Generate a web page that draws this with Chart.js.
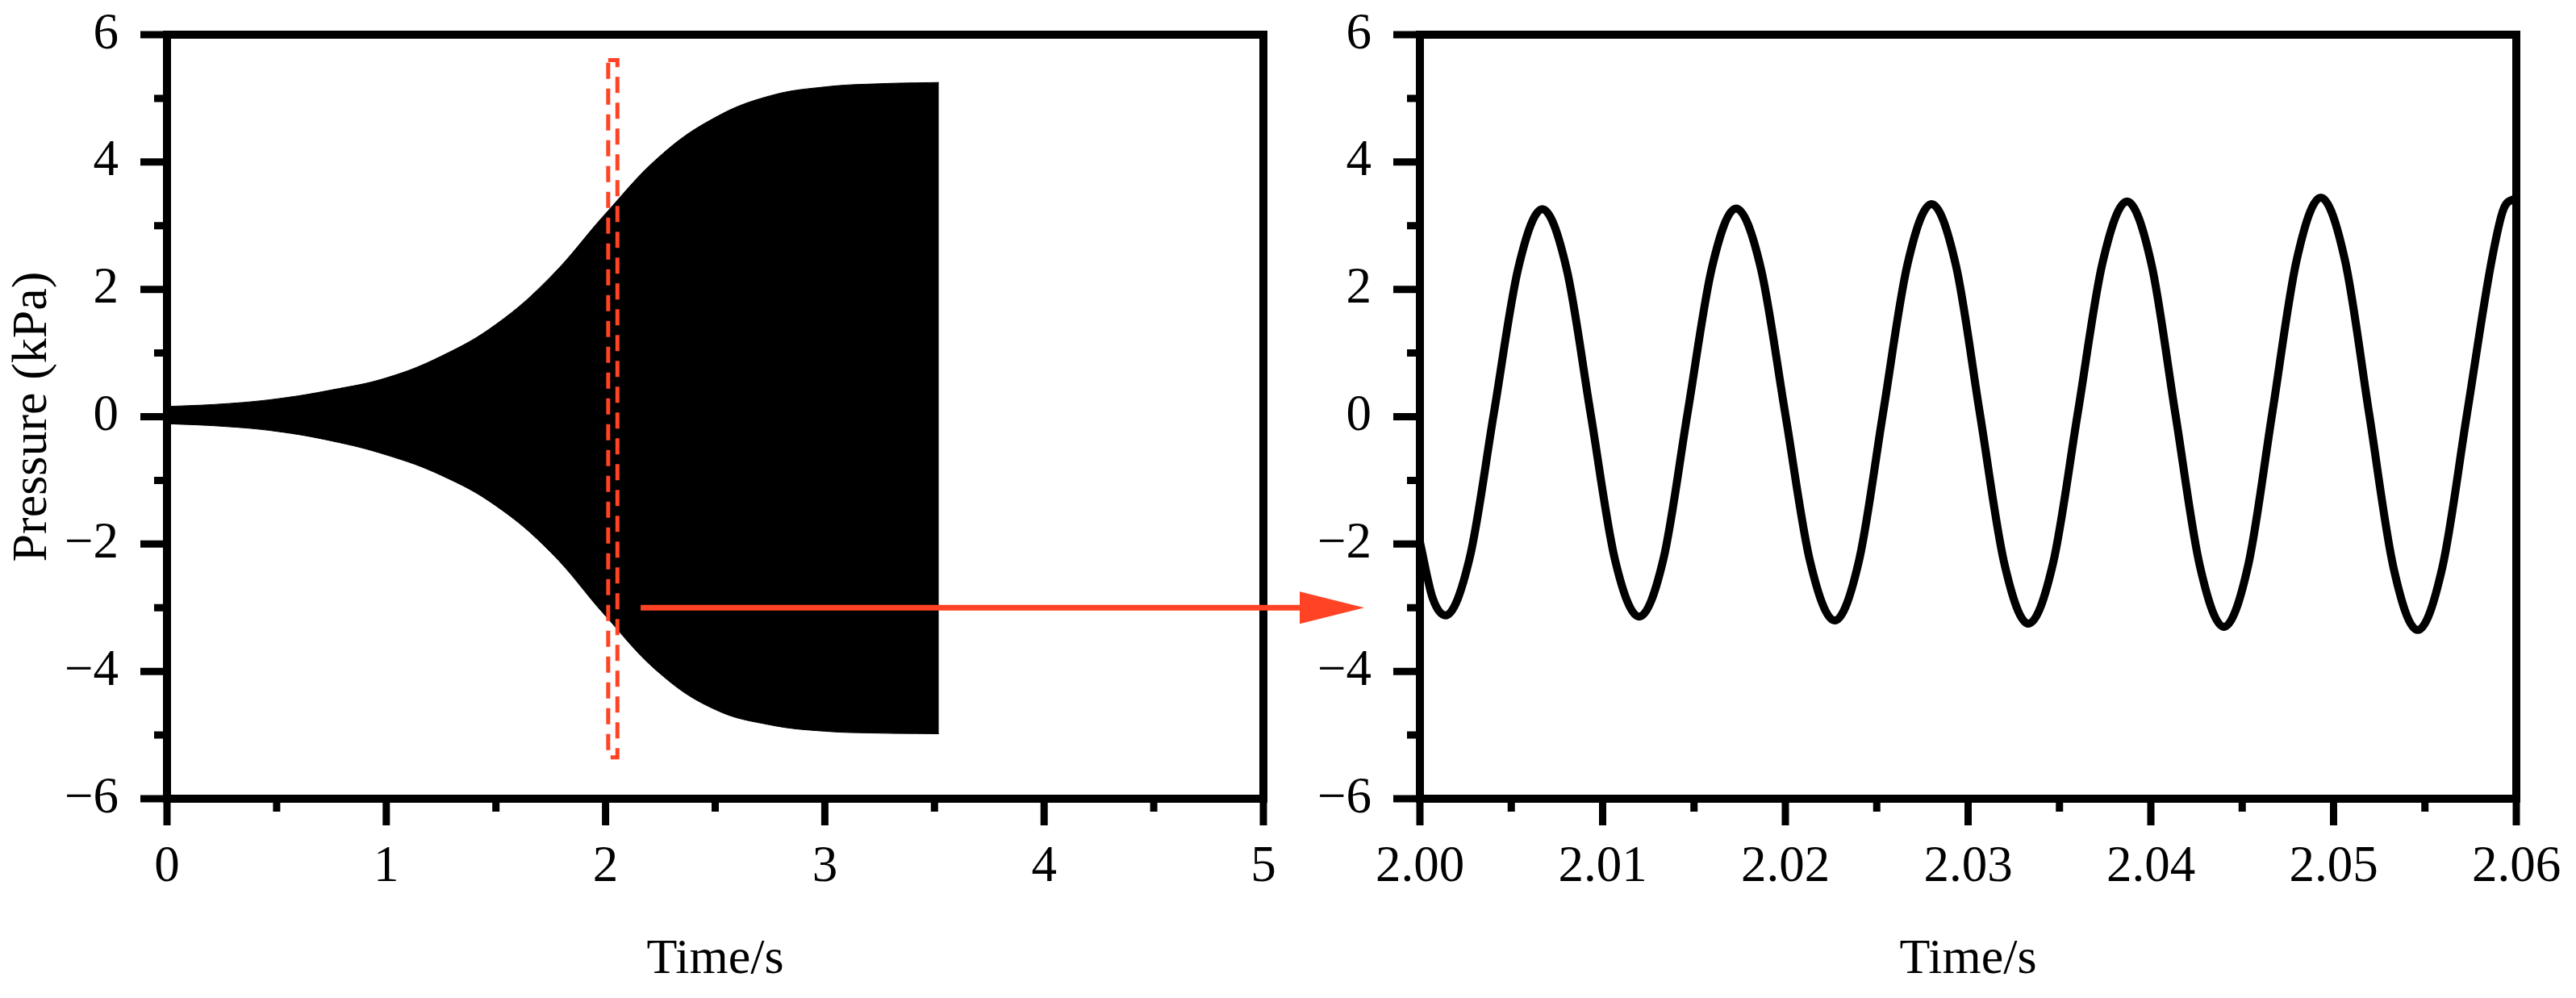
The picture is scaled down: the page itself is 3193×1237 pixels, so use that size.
<!DOCTYPE html>
<html>
<head>
<meta charset="utf-8">
<title>Pressure oscillation</title>
<script src="https://cdn.jsdelivr.net/npm/chart.js@4.4.1/dist/chart.umd.min.js"></script>
<style>
  html, body { margin: 0; padding: 0; background: #fff; }
  #wrap { position: relative; width: 3193px; height: 1237px; overflow: hidden; background: #fff; }
  canvas { position: absolute; top: 0; }
  #full { left: 0; }
  #zoom { left: 1560px; }
</style>
</head>
<body>
<div id="wrap">
  <canvas id="full" width="1700" height="1237"></canvas>
  <canvas id="zoom" width="1633" height="1237"></canvas>
</div>
<script>
// left panel: upper / lower envelope of the whole record (kPa)
const envTime  = [0, 0.25, 0.5, 0.75, 1.0, 1.25, 1.5, 1.75, 2.0, 2.25, 2.5, 2.75, 3.0, 3.25, 3.52];
const envUpper = [0.16, 0.2, 0.28, 0.42, 0.61, 0.95, 1.45, 2.2, 3.19, 4.1, 4.7, 5.04, 5.18, 5.23, 5.25];
const envLower = [-0.11, -0.15, -0.23, -0.38, -0.6, -0.92, -1.4, -2.13, -3.13, -4.04, -4.6, -4.84, -4.94, -4.97, -4.98];

// right panel: the signal between 2.00 and 2.06 s
const zoomTime = [
  2.0000, 2.0007, 2.0014, 2.00273, 2.00405, 2.00538,
  2.0067, 2.00803, 2.00935, 2.01068, 2.0120, 2.01333, 2.01465, 2.01598,
  2.0173, 2.01865, 2.0200, 2.02135, 2.0227, 2.02403, 2.02535, 2.02668,
  2.0280, 2.02933, 2.03065, 2.03198, 2.0333, 2.03465, 2.0360, 2.03735,
  2.0387, 2.04003, 2.04135, 2.04268, 2.0440, 2.04533, 2.04665, 2.04798,
  2.0493, 2.05063, 2.05195, 2.05328, 2.0546, 2.05595, 2.0573, 2.05865,
  2.0593, 2.0600
];
const zoomPressure = [
  -1.97, -2.85, -3.12, -2.21, 0.06, 2.33,
  3.26, 2.32, 0.035, -2.25, -3.14, -2.23, 0.06, 2.34,
  3.27, 2.34, 0.035, -2.27, -3.2, -2.26, 0.065, 2.39,
  3.34, 2.38, 0.04, -2.30, -3.25, -2.30, 0.055, 2.41,
  3.38, 2.40, 0.03, -2.34, -3.30, -2.33, 0.065, 2.46,
  3.44, 2.45, 0.04, -2.37, -3.35, -2.37, 0.04, 2.45,
  3.26, 3.44
];

const pressureTicks = [-6, -4, -2, 0, 2, 4, 6];
const fullTimeTicks = [0, 1, 2, 3, 4, 5];
const zoomTimeTicks = [2.00, 2.01, 2.02, 2.03, 2.04, 2.05, 2.06];

// dashed window on the left panel and the arrow pointing to the zoom
const boxTime     = [2.012, 2.054, 2.054, 2.012, 2.012];
const boxPressure = [5.6, 5.6, -5.35, -5.35, 5.6];
const arrowFrom = [2.16, -3.0];
const arrowTo   = [5.46, -3.0];

const RED = '#ff4324';
const FONT = "'Liberation Serif', 'Times New Roman', serif";
const tickFont = { family: FONT, size: 63 };
const titleFont = { family: FONT, size: 62 };

const pts = (xs, ys) => xs.map((x, i) => ({ x: x, y: ys[i] }));
const minus = v => (v < 0 ? '\u2212' + (-v) : String(v));

// box frame plus major/minor tick marks, drawn from the scales
const axisFrame = {
  id: 'axisFrame',
  afterDraw(chart) {
    const { ctx, chartArea: a, scales: { x, y } } = chart;
    const major = 33, minor = 16;
    ctx.save();
    ctx.strokeStyle = '#000';
    ctx.lineWidth = 9;
    ctx.beginPath();
    const xt = x.ticks.map(t => t.value);
    xt.forEach((v, i) => {
      const p = x.getPixelForValue(v);
      ctx.moveTo(p, a.bottom); ctx.lineTo(p, a.bottom + major);
      if (i < xt.length - 1) {
        const m = x.getPixelForValue((v + xt[i + 1]) / 2);
        ctx.moveTo(m, a.bottom); ctx.lineTo(m, a.bottom + minor);
      }
    });
    const yt = y.ticks.map(t => t.value);
    yt.forEach((v, i) => {
      const p = y.getPixelForValue(v);
      ctx.moveTo(a.left, p); ctx.lineTo(a.left - major, p);
      if (i < yt.length - 1) {
        const m = y.getPixelForValue((v + yt[i + 1]) / 2);
        ctx.moveTo(a.left, m); ctx.lineTo(a.left - minor, m);
      }
    });
    ctx.stroke();
    ctx.lineWidth = 10;
    ctx.strokeRect(a.left, a.top, a.right - a.left, a.bottom - a.top);
    ctx.restore();
  }
};

const zoomArrow = {
  id: 'zoomArrow',
  afterDraw(chart) {
    const { ctx, scales: { x, y } } = chart;
    const x0 = x.getPixelForValue(arrowFrom[0]);
    const x1 = x.getPixelForValue(arrowTo[0]);
    const py = y.getPixelForValue(arrowFrom[1]);
    const head = 80, half = 20;
    ctx.save();
    ctx.strokeStyle = RED;
    ctx.fillStyle = RED;
    ctx.lineWidth = 7;
    ctx.beginPath();
    ctx.moveTo(x0, py); ctx.lineTo(x1 - head + 2, py);
    ctx.stroke();
    ctx.beginPath();
    ctx.moveTo(x1, py);
    ctx.lineTo(x1 - head, py - half);
    ctx.lineTo(x1 - head, py + half);
    ctx.closePath();
    ctx.fill();
    ctx.restore();
  }
};

function timeScale(ticks, min, max, digits) {
  return {
    type: 'linear',
    min: min,
    max: max,
    afterBuildTicks: s => { s.ticks = ticks.map(v => ({ value: v })); },
    afterFit: s => { s.height = 247; s.paddingLeft = 0; s.paddingRight = 0; },
    grid: { display: false, drawTicks: false },
    border: { display: false },
    ticks: {
      font: tickFont, color: '#000', padding: 48,
      maxRotation: 0, autoSkip: false,
      callback: v => v.toFixed(digits)
    },
    title: { display: true, text: 'Time/s', font: titleFont, color: '#000', padding: { top: 0, bottom: 10 } }
  };
}

function pressureScale(width, withTitle) {
  return {
    type: 'linear',
    min: -6,
    max: 6,
    afterBuildTicks: s => { s.ticks = pressureTicks.map(v => ({ value: v })); },
    afterFit: s => { s.width = width; s.paddingTop = 0; s.paddingBottom = 0; },
    grid: { display: false, drawTicks: false },
    border: { display: false },
    ticks: { font: tickFont, color: '#000', padding: 60, callback: minus },
    title: { display: withTitle, text: 'Pressure (kPa)', font: titleFont, color: '#000', padding: { top: 4, bottom: 0 } }
  };
}

const common = {
  responsive: false,
  animation: false,
  devicePixelRatio: 1,
  events: [],
  plugins: { legend: { display: false }, tooltip: { enabled: false } },
  elements: { point: { radius: 0 } }
};

new Chart(document.getElementById('full'), {
  type: 'line',
  data: {
    datasets: [
      {
        data: pts(boxTime, boxPressure),
        borderColor: RED, borderWidth: 5, borderDash: [20, 12],
        borderJoinStyle: 'miter', fill: false, tension: 0
      },
      {
        data: pts(envTime, envUpper),
        borderColor: '#000', borderWidth: 1, fill: false, tension: 0.4
      },
      {
        data: pts(envTime, envLower),
        borderColor: '#000', borderWidth: 1, backgroundColor: '#000', fill: '-1', tension: 0.4
      }
    ]
  },
  options: Object.assign({}, common, {
    layout: { padding: { top: 43, right: 134, left: 0, bottom: 0 } },
    scales: { x: timeScale(fullTimeTicks, 0, 5, 0), y: pressureScale(207, true) }
  }),
  plugins: [axisFrame, zoomArrow]
});

new Chart(document.getElementById('zoom'), {
  type: 'line',
  data: {
    datasets: [{
      data: pts(zoomTime, zoomPressure),
      borderColor: '#000', borderWidth: 10, fill: false,
      cubicInterpolationMode: 'monotone'
    }]
  },
  options: Object.assign({}, common, {
    layout: { padding: { top: 43, right: 74, left: 0, bottom: 0 } },
    scales: { x: timeScale(zoomTimeTicks, 2.0, 2.06, 2), y: pressureScale(200, false) }
  }),
  plugins: [axisFrame]
});
</script>
</body>
</html>
